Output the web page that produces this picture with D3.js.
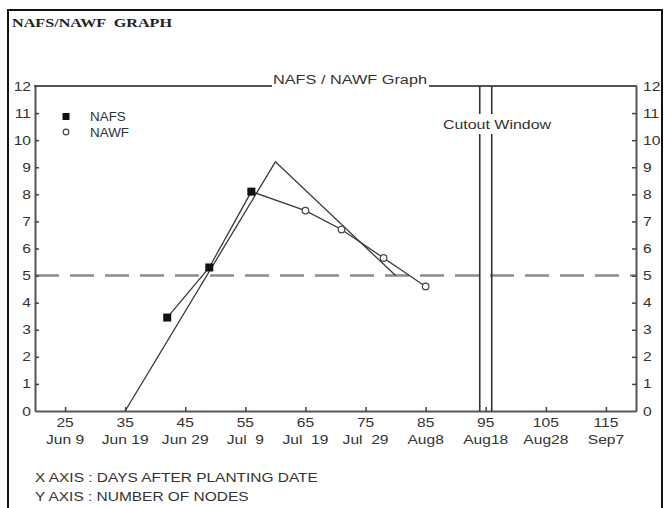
<!DOCTYPE html>
<html><head><meta charset="utf-8">
<script src="https://cdn.jsdelivr.net/npm/d3@7"></script>
<style>
html,body{margin:0;padding:0;background:#fff;}
text{font-family:"Liberation Sans",Arial,sans-serif;fill:#333;white-space:pre;}
</style></head>
<body>
<svg id="c" width="665" height="508"></svg>
<script>
// ---- data ----
const xTicks = [25,35,45,55,65,75,85,95,105,115];
const xDateLabels = ["Jun 9","Jun 19","Jun 29","Jul  9","Jul  19","Jul  29","Aug8","Aug18","Aug28","Sep7"];
const yTicks = [0,1,2,3,4,5,6,7,8,9,10,11,12];
const nafsDays = [42,49,56];
const nafsValues = [3.45,5.3,8.1];
const nawfDays = [65,71,78,85];
const nawfValues = [7.4,6.7,5.65,4.6];
const targetDays = [35,60,80];
const targetValues = [0,9.2,5.0];
const cutoutDays = [94,96];
const refLevel = 5;

const svg = d3.select("#c");
const x = d3.scaleLinear().domain([20,120]).range([35,636]);
const y = d3.scaleLinear().domain([0,12]).range([411,86]);
const SX = 1.3;

function label(g,px,py,s,anchor,size,sx){
  return g.append("text").attr("transform",`translate(${px},${py}) scale(${sx||SX},1)`)
    .attr("text-anchor",anchor||"start").style("font-size",(size||12)+"px").text(s);
}

// frame
svg.append("rect").attr("x",8).attr("y",10).attr("width",654).attr("height",520)
  .attr("fill","none").attr("stroke","#111").attr("stroke-width",2);
svg.append("text").attr("x",12).attr("y",27).attr("textLength",160).attr("lengthAdjust","spacingAndGlyphs")
  .style("font-family","'Liberation Serif','Times New Roman',serif").style("font-weight","bold")
  .style("font-size","12.5px").style("fill","#222").text("NAFS/NAWF  GRAPH");

// reference dashed line
svg.append("line").attr("x1",x(20)).attr("x2",x(120)).attr("y1",y(refLevel)).attr("y2",y(refLevel))
  .attr("stroke","#8c8c8c").attr("stroke-width",2.5).attr("stroke-dasharray","24,11");

// axes
const axColor="#555";
const gx = svg.append("g").attr("transform",`translate(0,${y(0)})`)
  .call(d3.axisBottom(x).tickValues(xTicks).tickSize(-4).tickSizeOuter(0).tickFormat(""));
const gl = svg.append("g").attr("transform",`translate(${x(20)},0)`)
  .call(d3.axisLeft(y).tickValues(yTicks.filter(d=>d>0&&d<12)).tickSize(-4).tickSizeOuter(0).tickFormat(""));
const gr = svg.append("g").attr("transform",`translate(${x(120)},0)`)
  .call(d3.axisRight(y).tickValues(yTicks.filter(d=>d>0&&d<12)).tickSize(-4).tickSizeOuter(0).tickFormat(""));
[gx,gl,gr].forEach(g=>{
  g.select(".domain").attr("stroke",axColor).attr("stroke-width",2);
  g.selectAll(".tick line").attr("stroke","#444").attr("stroke-width",1.5);
});
// top border with title gap
svg.append("line").attr("x1",x(20)-1).attr("x2",272).attr("y1",y(12)).attr("y2",y(12)).attr("stroke",axColor).attr("stroke-width",2);
svg.append("line").attr("x1",429).attr("x2",x(120)+1).attr("y1",y(12)).attr("y2",y(12)).attr("stroke",axColor).attr("stroke-width",2);
svg.append("text").attr("x",273).attr("y",84).attr("textLength",154).attr("lengthAdjust","spacingAndGlyphs")
  .style("font-size","12px").text("NAFS / NAWF Graph");

// tick labels
const tl = svg.append("g");
yTicks.forEach(v=>{
  label(tl,31,y(v)+4.5,String(v),"end",12);
  label(tl,643,y(v)+4.5,String(v),"start",12);
});
xTicks.forEach((d,i)=>{
  label(tl,x(d),427,String(d),"middle",12);
  label(tl,x(d),444,xDateLabels[i],"middle",12);
});

// cutout window
cutoutDays.forEach(d=>{
  svg.append("line").attr("x1",x(d)).attr("x2",x(d)).attr("y1",y(12)).attr("y2",y(0))
    .attr("stroke","#333").attr("stroke-width",1.6);
});
const cx = 497;
svg.append("rect").attr("x",cx-58).attr("y",114).attr("width",116).attr("height",20).attr("fill","#fff");
label(svg,cx,129,"Cutout Window","middle",12,1.33);

// target line
const line = d3.line().x(d=>x(d[0])).y(d=>y(d[1]));
svg.append("path").attr("d",line(targetDays.map((d,i)=>[d,targetValues[i]])))
  .attr("fill","none").attr("stroke","#3a3a3a").attr("stroke-width",1.3);
// observed line
const obs = nafsDays.map((d,i)=>[d,nafsValues[i]]).concat(nawfDays.map((d,i)=>[d,nawfValues[i]]));
svg.append("path").attr("d",line(obs)).attr("fill","none").attr("stroke","#3a3a3a").attr("stroke-width",1.3);

// markers
svg.selectAll(".sq").data(nafsDays).enter().append("rect")
  .attr("x",(d)=>x(d)-4).attr("y",(d,i)=>y(nafsValues[i])-4).attr("width",8).attr("height",8).attr("fill","#111");
svg.selectAll(".ci").data(nawfDays).enter().append("circle")
  .attr("cx",d=>x(d)).attr("cy",(d,i)=>y(nawfValues[i])).attr("r",3.3)
  .attr("fill","#fff").attr("stroke","#444").attr("stroke-width",1.2);

// legend
svg.append("rect").attr("x",62.5).attr("y",113).attr("width",7).attr("height",7).attr("fill","#111");
label(svg,90,121,"NAFS","start",12,1.12);
svg.append("circle").attr("cx",66).attr("cy",132).attr("r",2.8).attr("fill","#fff").attr("stroke","#444").attr("stroke-width",1.2);
label(svg,90,137,"NAWF","start",12,1.12);

// footnotes
label(svg,35,482,"X AXIS : DAYS AFTER PLANTING DATE","start",12,1.29);
label(svg,35,501,"Y AXIS : NUMBER OF NODES","start",12,1.29);
</script>
</body></html>
